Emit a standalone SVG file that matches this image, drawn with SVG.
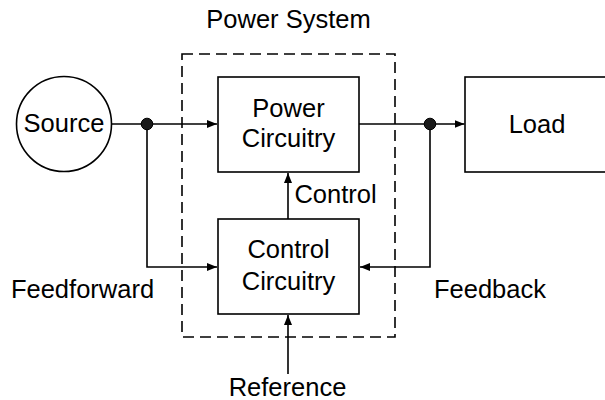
<svg xmlns="http://www.w3.org/2000/svg" width="605" height="400" viewBox="0 0 605 400">
<defs>
<style>
.box{fill:#fff;stroke:#000;stroke-width:1.6}
.ln{fill:none;stroke:#000;stroke-width:1.6}
.dash{fill:none;stroke:#000;stroke-width:1.6;stroke-dasharray:11,6}
.t{font-family:"Liberation Sans",Arial,sans-serif;font-size:25.5px;fill:#000;text-anchor:middle}
.dot{fill:#1a1a1a;stroke:#000;stroke-width:1}
</style>
<marker id="arr" markerUnits="userSpaceOnUse" markerWidth="11" markerHeight="9" refX="10" refY="4" orient="auto">
<path d="M0,0 L10,4 L0,8 Z" fill="#000"/>
</marker>
</defs>
<rect width="605" height="400" fill="#fff"/>
<g id="power-system">
<rect class="dash" x="182" y="54" width="213" height="283"/>
<text class="t" x="288.5" y="28">Power System</text>
</g>
<g id="connectors">
<line class="ln" x1="111.5" y1="124" x2="217" y2="124" marker-end="url(#arr)"/>
<polyline class="ln" points="147,124 147,267 217,267" marker-end="url(#arr)"/>
<line class="ln" x1="359" y1="124" x2="464.5" y2="124" marker-end="url(#arr)"/>
<polyline class="ln" points="430,124 430,267 360,267" marker-end="url(#arr)"/>
<line class="ln" x1="288" y1="219" x2="288" y2="173" marker-end="url(#arr)"/>
<line class="ln" x1="288" y1="374" x2="288" y2="315" marker-end="url(#arr)"/>
<circle class="dot" cx="147" cy="124" r="5.8"/>
<circle class="dot" cx="430" cy="124" r="5.8"/>
<text class="t" x="335.5" y="203">Control</text>
<text class="t" x="82.5" y="298">Feedforward</text>
<text class="t" x="490" y="298">Feedback</text>
<text class="t" x="287.5" y="396">Reference</text>
</g>
<g id="source">
<circle class="box" cx="64" cy="124" r="47.5"/>
<text class="t" x="64" y="132">Source</text>
</g>
<g id="power-circuitry">
<rect class="box" x="218" y="77" width="141" height="95"/>
<text class="t" x="288.5" y="117">Power</text>
<text class="t" x="288.5" y="147">Circuitry</text>
</g>
<g id="control-circuitry">
<rect class="box" x="218" y="219" width="141" height="95"/>
<text class="t" x="288.5" y="258">Control</text>
<text class="t" x="288.5" y="290">Circuitry</text>
</g>
<g id="load">
<rect class="box" x="465" y="77" width="150" height="95"/>
<text class="t" x="537" y="133">Load</text>
</g>
</svg>
